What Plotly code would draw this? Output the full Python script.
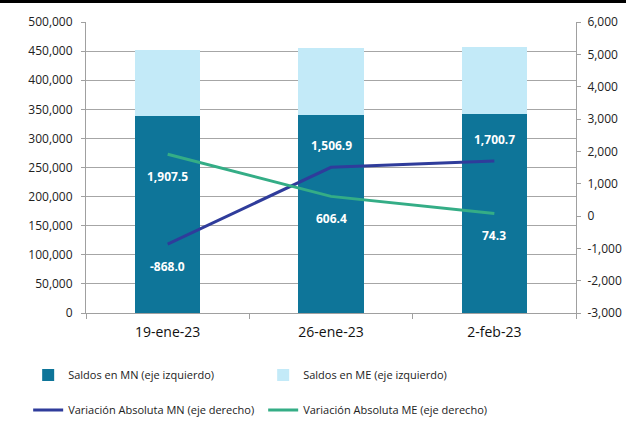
import plotly.graph_objects as go

categories = ["19-ene-23", "26-ene-23", "2-feb-23"]
saldos_mn = [338000, 339500, 341200]
saldos_me = [114500, 115100, 115200]
var_mn = [-868.0, 1506.9, 1700.7]
var_me = [1907.5, 606.4, 74.3]
mn_label_side = [-1, 1, 1]   # -1 below, +1 above
me_label_side = [-1, -1, -1]

left_ticks = list(range(0, 500001, 50000))
right_ticks = list(range(-3000, 6001, 1000))
right_ticktext = [f"{v:,}" for v in right_ticks]

C_MN = "#0E7599"
C_ME = "#C3EAF8"
C_LMN = "#2F3C9B"
C_LME = "#34AD86"
FONT = "Open Sans"

fig = go.Figure()
fig.add_trace(go.Bar(x=categories, y=saldos_mn, name="Saldos en MN (eje izquierdo)",
                     marker=dict(color=C_MN, line=dict(width=0)), legend="legend"))
fig.add_trace(go.Bar(x=categories, y=saldos_me, name="Saldos en ME (eje izquierdo)",
                     marker=dict(color=C_ME, line=dict(width=0)), legend="legend"))
fig.add_trace(go.Scatter(x=categories, y=var_mn, name="Variación Absoluta MN (eje derecho)",
                         mode="lines", line=dict(color=C_LMN, width=3), yaxis="y2", legend="legend2"))
fig.add_trace(go.Scatter(x=categories, y=var_me, name="Variación Absoluta ME (eje derecho)",
                         mode="lines", line=dict(color=C_LME, width=3), yaxis="y2", legend="legend2"))

annotations = []
for c, v, s in zip(categories, var_mn, mn_label_side):
    annotations.append(dict(x=c, y=v, xref="x", yref="y2", text=f"<b>{v:,.1f}</b>",
                            showarrow=False, yshift=22 * s,
                            font=dict(color="white", size=12, family=FONT)))
for c, v, s in zip(categories, var_me, me_label_side):
    annotations.append(dict(x=c, y=v, xref="x", yref="y2", text=f"<b>{v:,.1f}</b>",
                            showarrow=False, yshift=22 * s,
                            font=dict(color="white", size=12, family=FONT)))

fig.update_layout(
    width=626, height=435,
    margin=dict(l=86, r=50, t=22, b=122, autoexpand=False),
    plot_bgcolor="white", paper_bgcolor="white",
    barmode="stack", bargap=0.6,
    font=dict(family=FONT, size=12, color="#222222"),
    xaxis=dict(showline=True, linecolor="#A0A0A0", linewidth=1, ticks="outside",
               tickson="boundaries", ticklen=5, tickcolor="#A0A0A0", automargin=False,
               ticklabelstandoff=6,
               tickfont=dict(size=14, color="#111111"), showgrid=False),
    yaxis=dict(range=[0, 500000], tickvals=left_ticks, tickformat=",", showline=True,
               linecolor="#A0A0A0", ticks="outside", ticklen=4, tickcolor="#A0A0A0",
               gridcolor="#A6A6A6", gridwidth=1, zeroline=False, automargin=False,
               ticklabelstandoff=6, tickfont=dict(size=12)),
    yaxis2=dict(range=[-3000, 6000], tickvals=right_ticks, ticktext=right_ticktext,
                overlaying="y", side="right", showline=True, linecolor="#A0A0A0",
                ticks="outside", ticklen=4, tickcolor="#A0A0A0", showgrid=False,
                zeroline=False, automargin=False, ticklabelstandoff=4,
                tickfont=dict(size=12)),
    legend=dict(orientation="h", xref="container", yref="container",
                x=0.045, y=1 - 375 / 435, xanchor="left", yanchor="middle",
                entrywidth=190, entrywidthmode="pixels", itemwidth=30,
                font=dict(size=11, family=FONT), traceorder="normal"),
    legend2=dict(orientation="h", xref="container", yref="container",
                 x=0.045, y=1 - 410 / 435, xanchor="left", yanchor="middle",
                 entrywidth=190, entrywidthmode="pixels", itemwidth=30,
                 font=dict(size=11, family=FONT), traceorder="normal"),
    annotations=annotations,
)

post = (
    "document.body.style.margin='0px';"
    "var band=document.createElement('div');"
    "band.style.cssText='position:fixed;top:0;left:0;width:100%;height:3px;"
    "background:#000;z-index:1000;pointer-events:none;';"
    "document.body.appendChild(band);"
)
fig.write_html("out.html", config={"displayModeBar": False}, post_script=post)
